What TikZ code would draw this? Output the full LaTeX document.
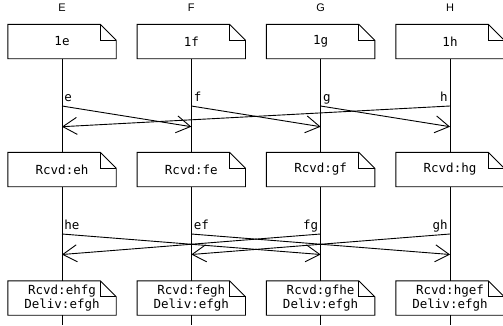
\documentclass[tikz,border=0pt]{standalone}
\usepackage{fontspec}
\newfontfamily\monofont{DejaVu Sans Mono}
\newfontfamily\headfont{Liberation Sans}
\usetikzlibrary{arrows.meta}

\tikzset{
  notebox/.style={minimum width=108pt, minimum height=34pt, inner sep=0pt,
    font=\monofont\fontsize{12.5}{14}\selectfont, align=center},
  headlbl/.style={font=\headfont\fontsize{11}{13}\selectfont, inner sep=0pt},
  msglbl/.style={font=\monofont\fontsize{12.5}{14}\selectfont, inner sep=0pt},
  life/.style={line width=.9pt},
  msg/.style={line width=.9pt,
    -{Straight Barb[length=14pt,width=17pt,line width=.9pt]}},
}

\newcommand{\dogear}[1]{%
  \draw[life] (#1.north west) -- ([xshift=-16pt]#1.north east)
    -- ([yshift=-16pt]#1.north east) -- (#1.south east)
    -- (#1.south west) -- cycle;
  \draw[life] ([xshift=-16pt]#1.north east)
    -- ([xshift=-16pt,yshift=-16pt]#1.north east)
    -- ([yshift=-16pt]#1.north east);
}

\begin{document}
\begin{tikzpicture}[x=1pt,y=-1pt]
\useasboundingbox (0,0) rectangle (503,325);

\node[headlbl] (hE) at (62,8) {E};
\node[headlbl] (hF) at (191.3,8) {F};
\node[headlbl] (hG) at (320.6,8) {G};
\node[headlbl] (hH) at (450,8) {H};

\node[notebox] (E1) at (62,41.5) {1e};
\node[notebox] (F1) at (191.3,41.5) {1f};
\node[notebox] (G1) at (320.6,41.5) {1g};
\node[notebox] (H1) at (450,41.5) {1h};

\node[notebox] (E2) at (62,169.5) {Rcvd:eh};
\node[notebox] (F2) at (191.3,169.5) {Rcvd:fe};
\node[notebox] (G2) at (320.6,169.5) {Rcvd:gf};
\node[notebox] (H2) at (450,169.5) {Rcvd:hg};

\node[notebox] (E3) at (62,298) {Rcvd:ehfg\\Deliv:efgh};
\node[notebox] (F3) at (191.3,298) {Rcvd:fegh\\Deliv:efgh};
\node[notebox] (G3) at (320.6,298) {Rcvd:gfhe\\Deliv:efgh};
\node[notebox] (H3) at (450,298) {Rcvd:hgef\\Deliv:efgh};

\dogear{E1} \dogear{F1} \dogear{G1} \dogear{H1}
\dogear{E2} \dogear{F2} \dogear{G2} \dogear{H2}
\dogear{E3} \dogear{F3} \dogear{G3} \dogear{H3}

\coordinate (Eend) at (62,325);
\coordinate (Fend) at (191.3,325);
\coordinate (Gend) at (320.6,325);
\coordinate (Hend) at (450,325);

\draw[life] (E1.south) -- (E2.north) (E2.south) -- (E3.north) (E3.south) -- (Eend);
\draw[life] (F1.south) -- (F2.north) (F2.south) -- (F3.north) (F3.south) -- (Fend);
\draw[life] (G1.south) -- (G2.north) (G2.south) -- (G3.north) (G3.south) -- (Gend);
\draw[life] (H1.south) -- (H2.north) (H2.south) -- (H3.north) (H3.south) -- (Hend);

% send / receive points
\coordinate (Ea) at (62,106);     \coordinate (Eb) at (62,126.7);
\coordinate (Fa) at (191.3,106);  \coordinate (Fb) at (191.3,126.7);
\coordinate (Ga) at (320.6,106);  \coordinate (Gb) at (320.6,126.7);
\coordinate (Ha) at (450,106);    \coordinate (Hb) at (450,126.7);

\coordinate (Ec) at (62,234);     \coordinate (Ed) at (62,254.5);
\coordinate (Fc) at (191.3,234);  \coordinate (Fd) at (191.3,254.5);
\coordinate (Gc) at (320.6,234);  \coordinate (Gd) at (320.6,254.5);
\coordinate (Hc) at (450,234);    \coordinate (Hd) at (450,254.5);

\draw[msg] (Ea) node[msglbl, anchor=base west, xshift=2pt, yshift=5pt] (le) {e} -- (Fb);
\draw[msg] (Fa) node[msglbl, anchor=base west, xshift=2pt, yshift=5pt] (lf) {f} -- (Gb);
\draw[msg] (Ga) node[msglbl, anchor=base west, xshift=2pt, yshift=5pt] (lg) {g} -- (Hb);
\draw[msg] (Ha) node[msglbl, anchor=base east, xshift=-2pt, yshift=5pt] (lh) {h} -- (Eb);

\draw[msg] (Ec) node[msglbl, anchor=base west, xshift=2pt, yshift=5pt] (lhe) {he} -- (Gd);
\draw[msg] (Fc) node[msglbl, anchor=base west, xshift=2pt, yshift=5pt] (lef) {ef} -- (Hd);
\draw[msg] (Gc) node[msglbl, anchor=base east, xshift=-2pt, yshift=5pt] (lfg) {fg} -- (Ed);
\draw[msg] (Hc) node[msglbl, anchor=base east, xshift=-2pt, yshift=5pt] (lgh) {gh} -- (Fd);

\end{tikzpicture}
\end{document}
